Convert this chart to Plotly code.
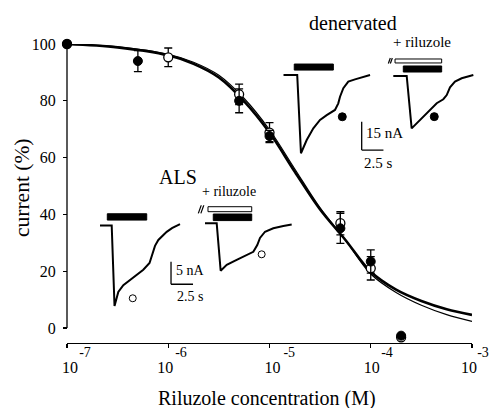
import plotly.graph_objects as go

# ---------------- main dose-response data ----------------
curve_logc = [-7, -6.5, -6, -5.75, -5.5, -5.25, -5, -4.75, -4.5, -4.25, -4, -3.75, -3.5, -3.25, -3]
curve_filled = [100, 98.8, 96.0, 93.0, 88.2, 79.8, 68.8, 55.0, 41.7, 31.0, 19.8, 13.5, 9.5, 6.6, 4.6]
curve_open = [100, 99.0, 96.4, 93.6, 89.0, 80.8, 69.8, 56.0, 42.3, 31.0, 19.0, 12.5, 8.0, 4.7, 2.3]

filled_logc = [-7, -6.3, -5.3, -5, -4.3, -4, -3.7]
filled_val = [100, 94.0, 80.0, 67.6, 35.1, 23.4, -2.7]
filled_err = [0, 3.7, 4.2, 2.0, 5.3, 4.1, 0]

open_logc = [-7, -6, -5.3, -5, -4.3, -4, -3.7]
open_val = [100, 95.3, 82.3, 68.8, 36.9, 21.0, -3.3]
open_err = [0, 3.3, 3.6, 3.5, 4.1, 4.1, 0]

x_tick_exp = [-7, -6, -5, -4, -3]
NB = "&nbsp;"
x_tick_base = [NB * 3 + "10", "10", NB * 3 + "10", NB * 2 + "10", "10"]
x_tick_sup = [NB * 4 + "-7", NB * 1 + "-6", NB * 5 + "-5", NB * 3 + "-4", "-3"]
y_ticks = [0, 20, 40, 60, 80, 100]

# ---------------- inset current traces (time s, current nA) ----------------
als_ctrl_t = [0, 1.33, 1.65, 2.08, 2.65, 3.78, 4.92, 5.63, 5.88, 6.25, 6.63, 7.58, 8.18, 9.09]
als_ctrl_i = [0, 0, -17.8, -14.7, -13.2, -11.5, -9.8, -8.3, -6.7, -4.5, -3.2, -1.4, -0.6, 0.3]
als_ril_t = [0, 1.33, 1.78, 2.47, 3.6, 4.74, 5.49, 5.94, 6.25, 6.82, 7.76, 8.9, 9.85]
als_ril_i = [0, 0, -10.5, -9.2, -8.1, -7.0, -6.3, -4.8, -3.25, -1.86, -1.1, -0.6, -0.27]
den_ctrl_t = [0, 1.6, 2.03, 2.69, 3.45, 4.22, 4.99, 5.94, 6.32, 6.52, 6.9, 7.47, 8.24, 9.97]
den_ctrl_i = [0, 0, -41.4, -34.4, -28.2, -23.8, -21.2, -18.5, -15.0, -11.5, -7.0, -3.5, -2.3, 0]
den_ril_t = [0, 1.54, 2.11, 2.69, 3.45, 4.22, 4.99, 5.75, 6.14, 6.52, 7.09, 7.86, 9.2]
den_ril_i = [0, 0, -27.7, -25.0, -21.5, -18.0, -14.4, -12.3, -10.1, -6.0, -3.0, -1.2, 0.5]

# measurement markers (t, I)
als_ctrl_mark = (3.72, -16.1)
als_ril_mark = (6.44, -6.86)
den_ctrl_mark = (6.78, -22.1)
den_ril_mark = (4.71, -21.5)

# application bars (t0, t1, i0, i1)
als_ctrl_bar = (0.83, 5.31, 1.2, 2.6)
als_ril_bar = (0.94, 5.31, 0.6, 2.05)
als_ril_white = (0.34, 5.31, 2.57, 3.67)
den_ctrl_bar = (1.26, 5.75, 2.6, 5.8)
den_ril_bar = (1.15, 5.56, 2.1, 5.3)
den_ril_white = (0.2, 5.56, 6.9, 9.0)

# scale bars
als_scale_nA, als_scale_s, als_scale_origin = 5, 2.5, (8.07, -13.0)
den_scale_nA, den_scale_s, den_scale_origin = 15, 2.5, (9.01, -39.7)

FONT = "Liberation Serif"

# ---------------- pixel helpers (layout only) ----------------
FIG_W, FIG_H = 490, 408
PX0, PW, PY0, PH = 40, 440, 10, 338   # paper box in figure pixels
Y_MIN = -5                             # y range starts a bit below 0 so the lowest point shows
PX_PER_UNIT = 2.84


def fx(px):
    return (px - PX0) / PW


def fy(py):
    return (PY0 + PH - py) / PH


fig = go.Figure()

# main curves
cx = [10 ** v for v in curve_logc]
fig.add_trace(go.Scatter(x=cx, y=curve_open, mode="lines", line=dict(color="black", width=1.2, shape="spline"),
                         cliponaxis=False, hoverinfo="skip", showlegend=False))
fig.add_trace(go.Scatter(x=cx, y=curve_filled, mode="lines", line=dict(color="black", width=2.6, shape="spline"),
                         cliponaxis=False, hoverinfo="skip", showlegend=False))

fig.add_trace(go.Scatter(x=[10 ** v for v in open_logc], y=open_val, mode="markers",
                         marker=dict(symbol="circle", size=9, color="white", line=dict(color="black", width=1.3)),
                         error_y=dict(type="data", array=open_err, visible=True, color="black", thickness=1.3, width=4),
                         cliponaxis=False, showlegend=False))
fig.add_trace(go.Scatter(x=[10 ** v for v in filled_logc], y=filled_val, mode="markers",
                         marker=dict(symbol="circle", size=9, color="black", line=dict(color="black", width=1)),
                         error_y=dict(type="data", array=filled_err, visible=True, color="black", thickness=1.3, width=4),
                         cliponaxis=False, showlegend=False))

# dummy trace for exponent axis
fig.add_trace(go.Scatter(x=[1e-7], y=[None], xaxis="x2", yaxis="y", mode="markers",
                         marker=dict(opacity=0), showlegend=False, hoverinfo="skip"))

# ---------------- insets ----------------
insets = [
    ("3", als_ctrl_t, als_ctrl_i, (100, 225.5), 8.8, 4.52, [0, 11], [-20, 4], als_ctrl_mark, False, 7),
    ("4", als_ril_t, als_ril_i, (205, 223.3), 8.8, 4.52, [-1, 10.2], [-20, 4], als_ril_mark, False, 7),
    ("5", den_ctrl_t, den_ctrl_i, (283.3, 75), 8.7, 1.89, [0, 11.6], [-52, 12], den_ctrl_mark, True, 8),
    ("6", den_ril_t, den_ril_i, (393.3, 76), 8.7, 1.89, [-1, 9.5], [-45, 12], den_ril_mark, True, 8),
]

layout_axes = {}
for name, t, i, (ox, oy), sx, sy, xr, yr, mark, filled, msz in insets:
    fig.add_trace(go.Scatter(x=t, y=i, xaxis="x" + name, yaxis="y" + name, mode="lines",
                             line=dict(color="black", width=2), showlegend=False, hoverinfo="skip",
                             cliponaxis=False))
    fig.add_trace(go.Scatter(x=[mark[0]], y=[mark[1]], xaxis="x" + name, yaxis="y" + name, mode="markers",
                             marker=dict(size=msz, color="black" if filled else "white",
                                         line=dict(color="black", width=1)),
                             showlegend=False, hoverinfo="skip", cliponaxis=False))
    layout_axes["xaxis" + name] = dict(domain=[fx(ox + xr[0] * sx), fx(ox + xr[1] * sx)], range=xr,
                                       anchor="y" + name, visible=False, fixedrange=True)
    layout_axes["yaxis" + name] = dict(domain=[fy(oy - yr[0] * sy), fy(oy - yr[1] * sy)], range=yr,
                                       anchor="x" + name, visible=False, fixedrange=True)

shapes = []

# y axis line drawn only from 0 to 100
shapes.append(dict(type="line", xref="paper", yref="y", x0=fx(67), x1=fx(67), y0=y_ticks[0], y1=y_ticks[-1],
                   line=dict(color="black", width=1.3)))


def rect(ax, b, fill):
    shapes.append(dict(type="rect", xref="x" + ax, yref="y" + ax, x0=b[0], x1=b[1], y0=b[2], y1=b[3],
                       fillcolor=fill, line=dict(color="black", width=1)))


rect("3", als_ctrl_bar, "black")
rect("4", als_ril_white, "white")
rect("4", als_ril_bar, "black")
rect("5", den_ctrl_bar, "black")
rect("6", den_ril_white, "white")
rect("6", den_ril_bar, "black")


def slashes(ax, t0, i0, dt, di, gap):
    for k in range(2):
        shapes.append(dict(type="line", xref="x" + ax, yref="y" + ax,
                           x0=t0 + k * gap, y0=i0, x1=t0 + k * gap + dt, y1=i0 + di,
                           line=dict(color="black", width=1.2)))


slashes("4", -0.76, 2.2, 0.34, 1.85, 0.29)
slashes("6", -0.57, 6.6, 0.23, 2.9, 0.23)


def scalebar(ax, origin, nA, s):
    x0, y0 = origin
    shapes.append(dict(type="line", xref="x" + ax, yref="y" + ax, x0=x0, y0=y0, x1=x0, y1=y0 + nA,
                       line=dict(color="black", width=1.3)))
    shapes.append(dict(type="line", xref="x" + ax, yref="y" + ax, x0=x0, y0=y0, x1=x0 + s, y1=y0,
                       line=dict(color="black", width=1.3)))


scalebar("3", als_scale_origin, als_scale_nA, als_scale_s)
scalebar("5", den_scale_origin, den_scale_nA, den_scale_s)

annotations = [
    dict(text="Riluzole concentration (M)", x=fx(267), y=fy(398.5), xref="paper", yref="paper",
         showarrow=False, font=dict(size=20, family=FONT, color="black"), xanchor="center", yanchor="middle"),
    dict(text="current (%)", x=fx(22), y=fy(188), xref="paper", yref="paper", textangle=-90,
         showarrow=False, font=dict(size=21.5, family=FONT, color="black"), xanchor="center", yanchor="middle"),
    dict(text="ALS", x=fx(177.5), y=fy(177), xref="paper", yref="paper",
         showarrow=False, font=dict(size=20, family=FONT, color="black"), xanchor="center", yanchor="middle"),
    dict(text="+ riluzole", x=fx(229), y=fy(191), xref="paper", yref="paper",
         showarrow=False, font=dict(size=14, family=FONT, color="black"), xanchor="center", yanchor="middle"),
    dict(text="denervated", x=fx(353.3), y=fy(23.3), xref="paper", yref="paper",
         showarrow=False, font=dict(size=20, family=FONT, color="black"), xanchor="center", yanchor="middle"),
    dict(text="+ riluzole", x=fx(421.7), y=fy(41.7), xref="paper", yref="paper",
         showarrow=False, font=dict(size=15, family=FONT, color="black"), xanchor="center", yanchor="middle"),
    dict(text=f"{als_scale_nA} nA", x=als_scale_origin[0] + 0.3, y=als_scale_origin[1] + als_scale_nA * 0.6,
         xref="x3", yref="y3", showarrow=False, font=dict(size=14, family=FONT, color="black"),
         xanchor="left", yanchor="middle"),
    dict(text=f"{als_scale_s} s", x=als_scale_origin[0] + 2.2, y=als_scale_origin[1] - 2.75,
         xref="x3", yref="y3", showarrow=False, font=dict(size=14, family=FONT, color="black"),
         xanchor="center", yanchor="middle"),
    dict(text=f"{den_scale_nA} nA", x=den_scale_origin[0] + 0.25, y=den_scale_origin[1] + 9.2,
         xref="x5", yref="y5", showarrow=False, font=dict(size=15, family=FONT, color="black"),
         xanchor="left", yanchor="middle"),
    dict(text=f"{den_scale_s} s", x=den_scale_origin[0] + 1.9, y=den_scale_origin[1] - 7.0,
         xref="x5", yref="y5", showarrow=False, font=dict(size=15, family=FONT, color="black"),
         xanchor="center", yanchor="middle"),
]

fig.update_layout(
    width=FIG_W, height=FIG_H,
    margin=dict(l=PX0, r=FIG_W - PX0 - PW, t=PY0, b=FIG_H - PY0 - PH, autoexpand=False),
    paper_bgcolor="white", plot_bgcolor="rgba(0,0,0,0)",
    font=dict(family=FONT, color="black"),
    showlegend=False,
    xaxis=dict(type="log", range=[-7, -3], domain=[fx(67), fx(472)], anchor="free", position=fy(342.7),
               tickvals=[10 ** e for e in x_tick_exp], ticktext=x_tick_base,
               ticks="outside", ticklen=4, tickwidth=1.2, tickcolor="black",
               showline=True, linecolor="black", linewidth=1.3, showgrid=False, zeroline=False,
               tickfont=dict(size=16, family=FONT, color="black"), ticklabelstandoff=6, ticklabelshift=-3,
               ticklabeloverflow="allow", automargin=False),
    xaxis2=dict(type="log", range=[-7, -3], domain=[fx(67), fx(472)], anchor="free", position=fy(342.7),
                overlaying="x", tickvals=[10 ** e for e in x_tick_exp], ticktext=x_tick_sup,
                ticks="", showline=False, showgrid=False, zeroline=False, ticklabelshift=11,
                ticklabelstandoff=-1, tickfont=dict(size=14, family=FONT, color="black"),
                ticklabeloverflow="allow", automargin=False),
    yaxis=dict(range=[Y_MIN, 100], domain=[fy(328 - Y_MIN * PX_PER_UNIT), fy(44)], anchor="free", position=fx(67),
               tickvals=y_ticks, ticks="outside", ticklen=4, tickwidth=1.2, tickcolor="black",
               showline=False, showgrid=False, zeroline=False,
               tickfont=dict(size=16, family=FONT, color="black"), ticklabelstandoff=4, automargin=False),
    shapes=shapes,
    annotations=annotations,
    **layout_axes,
)

# remove the browser's default 8px page margin so the 490x408 figure fills the window exactly
fig.write_html("out.html", config={"displayModeBar": False, "staticPlot": True},
               post_script="document.body.style.margin='0';document.body.style.overflow='hidden';")
